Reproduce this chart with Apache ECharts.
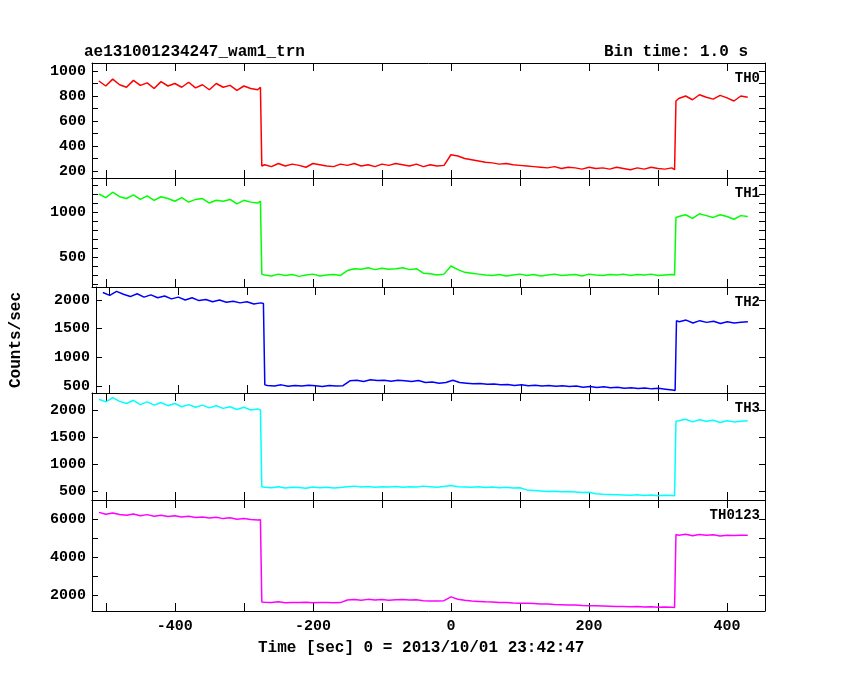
<!DOCTYPE html>
<html>
<head>
<meta charset="utf-8">
<script src="https://cdn.jsdelivr.net/npm/echarts@6/dist/echarts.min.js"></script>
<style>html,body{margin:0;background:#fff}#c{width:850px;height:680px}</style>
</head>
<body>
<div id="c"></div>
<script>
var times = [-510,-500,-490,-480,-470,-460,-450,-440,-430,-420,-410,-400,-390,-380,-370,-360,-350,-340,-330,-320,-310,-300,-290,-280,-276,
  -274,-270,-260,-250,-240,-230,-220,-210,-200,-190,-180,-170,-160,-150,-140,-130,-120,-110,-100,-90,-80,-70,-60,-50,-40,-30,-20,-10,0,10,20,30,40,50,60,70,80,90,100,110,120,130,140,150,160,170,180,190,200,210,220,230,240,250,260,270,280,290,300,310,320,324,
  326,330,340,350,360,370,380,390,400,410,420,430];

var th0 = [920,880,935,890,870,925,885,905,860,915,880,900,870,910,865,890,850,900,870,885,845,880,860,850,870,
  240,250,235,260,240,255,245,230,260,250,240,235,255,245,260,240,250,235,255,245,260,250,240,255,235,250,240,245,330,320,300,290,280,270,265,255,260,250,245,240,235,230,225,235,220,230,225,215,230,220,225,215,230,220,210,225,215,230,220,215,225,210,
  760,780,800,770,810,790,775,805,785,760,800,790];
var th1 = [1200,1160,1220,1170,1150,1190,1140,1180,1130,1170,1150,1120,1160,1110,1140,1150,1100,1130,1120,1140,1090,1130,1110,1100,1120,
  310,300,290,310,295,305,285,300,310,290,300,305,295,350,370,365,380,360,375,365,370,380,360,370,320,315,300,310,400,360,330,320,310,300,295,305,290,300,310,295,305,290,300,310,295,300,305,290,310,300,295,305,300,310,295,305,300,310,295,300,305,300,
  940,950,970,930,980,960,940,970,950,920,960,950];
var th2 = [2130,2080,2150,2100,2060,2110,2050,2090,2040,2070,2020,2050,2000,2040,1990,2010,1970,2000,1960,1980,1950,1970,1930,1950,1940,
  520,510,500,520,495,510,500,515,505,490,510,500,505,590,600,580,610,595,600,585,600,590,580,595,560,570,550,560,600,560,550,540,545,530,535,520,525,510,520,505,515,500,510,495,505,490,500,480,490,475,485,470,480,460,470,455,465,450,460,445,430,420,
  1640,1620,1650,1600,1640,1610,1630,1590,1620,1600,1610,1620];
var th3 = [2200,2150,2230,2160,2120,2180,2100,2150,2090,2140,2080,2120,2060,2100,2050,2090,2040,2080,2030,2060,2010,2050,2000,2020,2000,
  580,570,560,580,555,570,565,550,575,560,570,555,565,580,590,575,585,570,580,575,585,570,580,575,590,580,570,585,600,580,575,570,580,565,575,560,570,555,560,520,510,500,490,495,485,490,480,470,475,450,440,435,430,425,420,430,415,425,410,420,415,410,
  1790,1800,1830,1780,1820,1790,1810,1770,1800,1780,1790,1800];
var th0123 = [6350,6250,6320,6240,6200,6260,6170,6230,6150,6200,6130,6170,6100,6140,6080,6110,6050,6090,6020,6060,5990,6030,5970,5950,5960,
  1630,1620,1600,1640,1590,1610,1600,1620,1590,1600,1610,1590,1600,1740,1760,1730,1770,1740,1760,1730,1750,1760,1740,1750,1700,1690,1680,1700,1900,1780,1720,1680,1660,1640,1630,1610,1600,1580,1570,1560,1550,1530,1520,1500,1490,1480,1470,1450,1440,1430,1420,1410,1400,1390,1380,1390,1370,1380,1360,1370,1350,1340,
  5180,5150,5200,5120,5180,5140,5170,5110,5150,5130,5140,5150];

var names = ['TH0', 'TH1', 'TH2', 'TH3', 'TH0123'];
var colors = ['#ff0000', '#00ff00', '#0000ff', '#00ffff', '#ff00ff'];
var seriesData = [th0, th1, th2, th3, th0123];
var yRanges = [[144, 1064], [167, 1378], [378, 2227], [333, 2315], [1158, 7000]];
var yLabels = [[200, 400, 600, 800, 1000], [500, 1000], [500, 1000, 1500, 2000], [500, 1000, 1500, 2000], [2000, 4000, 6000]];
var yTicks = [[200, 300, 400, 500, 600, 700, 800, 900, 1000], [200, 300, 400, 500, 600, 700, 800, 900, 1000, 1100, 1200, 1300],
  [500, 1000, 1500, 2000], [500, 1000, 1500, 2000], [2000, 3000, 4000, 5000, 6000]];
var xLabels = [-400, -200, 0, 200, 400];
var xTicks = [-500, -400, -300, -200, -100, 0, 100, 200, 300, 400];
var panelTops = [63, 178, 287, 393, 500, 611];

var font = 'Liberation Mono';
var plain = function (v) { return String(v); };
var grids = [], xAxes = [], yAxes = [], series = [], graphics = [];
for (var i = 0; i < 5; i++) {
  grids.push({left: 92, width: 673, top: panelTops[i], height: panelTops[i + 1] - panelTops[i]});
  var last = i == 4;
  [false, true].forEach(function (mirror) {
    xAxes.push({
      type: 'value', gridIndex: i, min: -520, max: 455, position: mirror ? 'top' : 'bottom',
      axisLine: {show: true, onZero: false, lineStyle: {color: '#000', width: 1}},
      axisTick: {inside: true, length: 8, customValues: xTicks, lineStyle: {color: '#000'}},
      axisLabel: {show: last && !mirror, customValues: xLabels, formatter: plain, color: '#000', fontFamily: font, fontSize: 15, fontWeight: 'bold', margin: 8},
      splitLine: {show: false}
    });
    var ya = {
      type: 'value', gridIndex: i, min: yRanges[i][0], max: yRanges[i][1], position: mirror ? 'right' : 'left',
      axisLine: {show: true, onZero: false, lineStyle: {color: '#000', width: 1}},
      axisTick: {inside: true, length: 6, customValues: yTicks[i], lineStyle: {color: '#000'}},
      axisLabel: {show: !mirror, customValues: yLabels[i], formatter: plain, color: '#000', fontFamily: font, fontSize: 15, fontWeight: 'bold', margin: 6},
      splitLine: {show: false}
    };
    if (i == 2 && !mirror) {
      ya.name = 'Counts/sec';
      ya.nameLocation = 'middle';
      ya.nameGap = 72;
      ya.nameTextStyle = {color: '#000', fontFamily: font, fontSize: 16, fontWeight: 'bold'};
    }
    yAxes.push(ya);
  });
  series.push({
    type: 'line', name: names[i], xAxisIndex: i * 2, yAxisIndex: i * 2, showSymbol: false, animation: false,
    lineStyle: {color: colors[i], width: 1.5}, itemStyle: {color: colors[i]},
    data: times.map(function (t, k) { return [t, seriesData[i][k]]; })
  });
  graphics.push({type: 'text', right: 850 - 760, top: panelTops[i] + 8,
    style: {text: names[i], font: 'bold 14px ' + font, fill: '#000'}});
}
graphics.push({type: 'text', left: 84, top: 44, style: {text: 'ae131001234247_wam1_trn', font: 'bold 16px ' + font, fill: '#000'}});
graphics.push({type: 'text', right: 850 - 748, top: 44, style: {text: 'Bin time: 1.0 s', font: 'bold 16px ' + font, fill: '#000'}});
graphics.push({type: 'text', left: 258, top: 640, style: {text: 'Time [sec] 0 = 2013/10/01 23:42:47', font: 'bold 16px ' + font, fill: '#000'}});

var chart = echarts.init(document.getElementById('c'));
chart.setOption({
  backgroundColor: '#fff', animation: false,
  grid: grids, xAxis: xAxes, yAxis: yAxes, series: series, graphic: graphics
});
</script>
</body>
</html>
